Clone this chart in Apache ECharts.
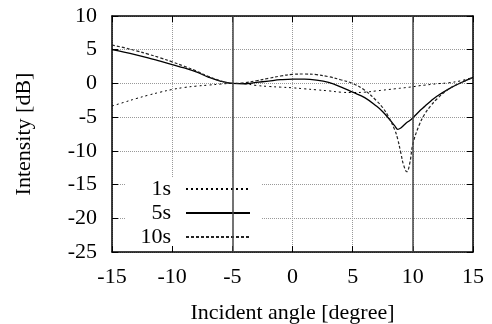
<!DOCTYPE html>
<html>
<head>
<meta charset="utf-8">
<script src="https://cdn.jsdelivr.net/npm/echarts@6/dist/echarts.min.js"></script>
<style>
  html, body {margin: 0; padding: 0; background: #fff;}
  #chart {width: 492px; height: 324px;}
</style>
</head>
<body>
<div id="chart"></div>
<script>
const angles = [-15, -14, -13, -12, -11, -10, -9, -8, -7, -6, -5, -4, -3, -2, -1, 0, 1, 2, 3, 4, 5, 6, 7,
  7.5, 8, 8.5, 8.75, 9, 9.25, 9.5, 9.75, 10, 10.5, 11, 11.5, 12, 13, 14, 15]
const int1s = [-3.35, -2.8, -2.25, -1.75, -1.3, -0.9, -0.6, -0.4, -0.25, -0.1, 0, -0.05, -0.3, -0.45, -0.55, -0.65, -0.8, -0.95, -1.1, -1.3, -1.35, -1.3, -1.1,
  -1.0, -0.9, -0.8, -0.75, -0.7, -0.65, -0.6, -0.55, -0.5, -0.35, -0.25, -0.15, -0.05, 0.1, 0.4, 0.9]
const int5s = [5.0, 4.65, 4.25, 3.8, 3.3, 2.8, 2.3, 1.7, 0.95, 0.35, 0, -0.05, 0.15, 0.35, 0.55, 0.65, 0.65, 0.5, 0.15, -0.5, -1.3, -2.1, -3.4,
  -4.2, -5.2, -6.3, -6.8, -6.6, -6.2, -5.8, -5.5, -5.1, -4.2, -3.4, -2.6, -1.9, -0.8, 0.1, 0.9]
const int10s = [5.7, 5.3, 4.85, 4.35, 3.8, 3.2, 2.55, 1.85, 1.05, 0.4, 0, 0.1, 0.4, 0.75, 1.1, 1.35, 1.4, 1.3, 1.0, 0.55, 0, -1.0, -2.6,
  -3.6, -5.0, -6.9, -8.3, -10.3, -12.2, -13.1, -11.8, -9.0, -6.3, -4.5, -3.3, -2.3, -0.8, 0.1, 0.9]
const markAngles = [-5, 10]

const font = 'Liberation Serif'
const fs = 22

const toPairs = vals => angles.map((a, i) => [a, vals[i]])

const chart = echarts.init(document.getElementById('chart'))

const xBase = {
  type: 'value', min: -15, max: 15, interval: 5,
  axisLine: {show: true, onZero: false, lineStyle: {color: '#000', width: 1.5}},
  axisTick: {show: true, inside: true, length: 6, lineStyle: {color: '#000'}},
}
const yBase = {
  type: 'value', min: -25, max: 10, interval: 5,
  axisLine: {show: true, onZero: false, lineStyle: {color: '#000', width: 1.5}},
  axisTick: {show: true, inside: true, length: 6, lineStyle: {color: '#000'}},
}

chart.setOption({
  animation: false,
  backgroundColor: '#fff',
  textStyle: {fontFamily: font},
  grid: {left: 112, right: 19, top: 16, bottom: 72, outerBoundsMode: 'none'},
  xAxis: [
    Object.assign({}, xBase, {
      position: 'bottom',
      name: 'Incident angle [degree]',
      nameLocation: 'middle',
      nameGap: 50,
      nameTextStyle: {fontFamily: font, fontSize: fs, color: '#000'},
      axisLabel: {fontFamily: font, fontSize: fs, color: '#000', margin: 14},
      splitLine: {show: true, lineStyle: {color: '#999', type: 'dotted', width: 1}}
    }),
    Object.assign({}, xBase, {position: 'top', axisLabel: {show: false}, splitLine: {show: false}})
  ],
  yAxis: [
    Object.assign({}, yBase, {
      position: 'left',
      name: 'Intensity [dB]',
      nameLocation: 'middle',
      nameGap: 77,
      nameTextStyle: {fontFamily: font, fontSize: fs, color: '#000'},
      axisLabel: {fontFamily: font, fontSize: fs, color: '#000', margin: 15},
      splitLine: {show: true, lineStyle: {color: '#999', type: 'dotted', width: 1}}
    }),
    Object.assign({}, yBase, {position: 'right', axisLabel: {show: false}, splitLine: {show: false}})
  ],
  graphic: [{
    type: 'rect', z: 1,
    shape: {x: 125, y: 177, width: 137, height: 69},
    style: {fill: '#fff'}
  }],
  legend: {
    orient: 'vertical',
    align: 'right',
    right: 241,
    top: 178,
    padding: 0,
    itemWidth: 64,
    itemHeight: 20,
    itemGap: 2,
    itemStyle: {opacity: 0},
    textStyle: {fontFamily: font, fontSize: fs, color: '#000', padding: [0, 10, 0, 0]},
    data: ['1s', '5s', '10s']
  },
  series: [
    {
      name: '1s', type: 'line', data: toPairs(int1s),
      smooth: 0.4, symbol: 'none',
      lineStyle: {color: '#000', width: 1, type: [2, 3]},
      itemStyle: {color: '#000'},
      markLine: {
        silent: true, symbol: 'none', label: {show: false},
        lineStyle: {color: '#444', width: 1.5, type: 'solid'},
        data: markAngles.map(a => ({xAxis: a}))
      }
    },
    {
      name: '5s', type: 'line', data: toPairs(int5s),
      smooth: 0.4, symbol: 'none',
      lineStyle: {color: '#000', width: 1.3, type: 'solid'},
      itemStyle: {color: '#000'}
    },
    {
      name: '10s', type: 'line', data: toPairs(int10s),
      smooth: 0.4, symbol: 'none',
      lineStyle: {color: '#222', width: 1.2, type: [3, 2]},
      itemStyle: {color: '#222'}
    }
  ]
})
</script>
</body>
</html>
